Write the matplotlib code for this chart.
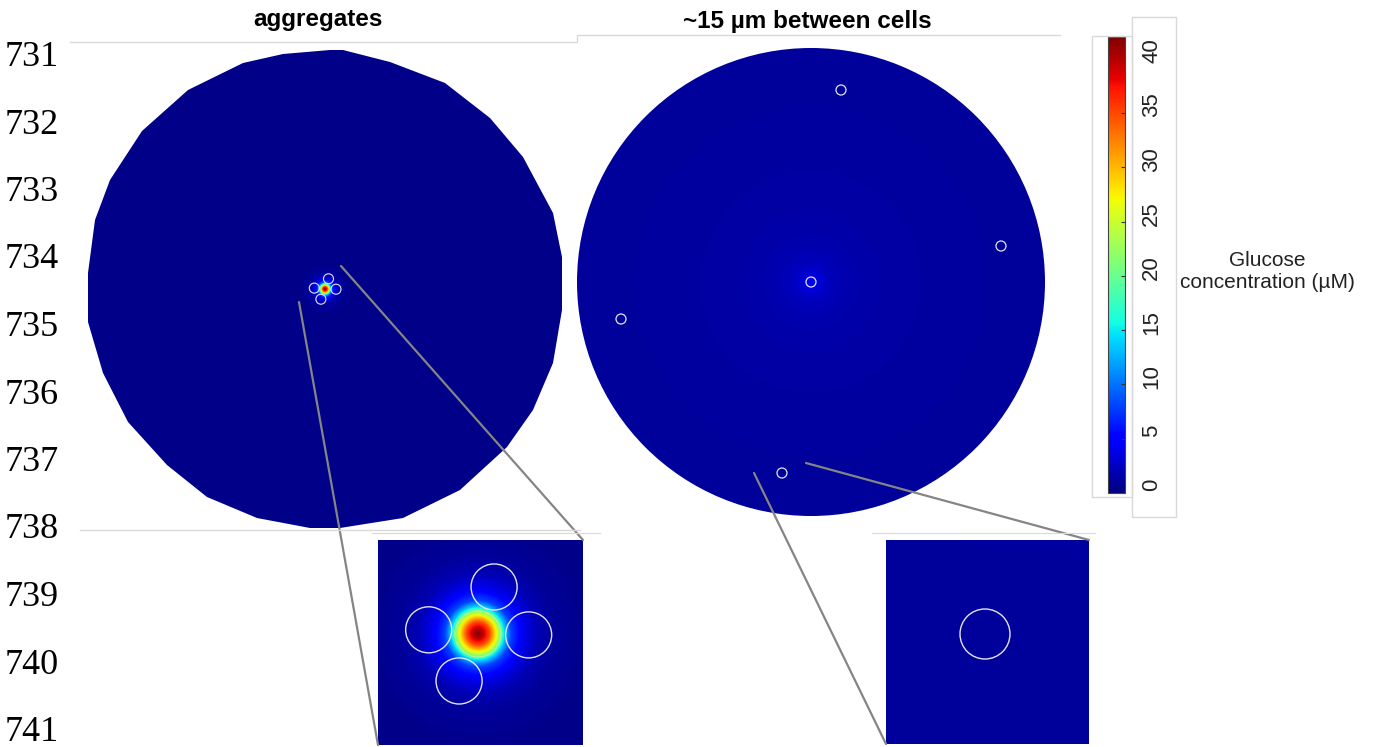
import numpy as np
import matplotlib
matplotlib.use("Agg")
import matplotlib.pyplot as plt
from matplotlib.patches import Polygon, Circle, Rectangle, ConnectionPatch
from matplotlib.lines import Line2D
from matplotlib.colors import Normalize
from matplotlib.cm import ScalarMappable
from matplotlib.transforms import blended_transform_factory, ScaledTranslation

W, H = 1373, 747

# line numbers down the left margin
line_numbers = [731, 732, 733, 734, 735, 736, 737, 738, 739, 740, 741]

# outer boundary of the coarse mesh for the aggregate domain (um from centre)
mesh_x = [5, 18, 65, 120, 165, 198, 228, 237, 237, 228, 208, 182, 135, 78, 15,
          -15, -68, -118, -158, -197, -222, -237, -237, -230, -215, -183, -137, -82, -42]
mesh_y = [239, 239, 227, 206, 171, 132, 76, 32, -21, -74, -121, -158, -201, -229, -239,
          -239, -229, -208, -176, -133, -84, -33, 16, 69, 109, 158, 199, 226, 235]

# cell centres (um); the first one in each list is the glucose source
agg_cells_x = [0.0, 3.5, -10.7, 11.0, -4.1]
agg_cells_y = [0.0, 10.2, 0.9, -0.2, -10.2]
spread_cells_x = [0, 30, 190, -190, -29]
spread_cells_y = [0, 192, 36, -37, -191]
cell_radius = 5
spread_radius = 234

# radial glucose profiles around the source cell (um, uM)
agg_prof_r = [0, 1, 2.5, 4, 5, 5.8, 7.2, 10, 13, 17, 25, 250]
agg_prof_c = [42, 40, 35, 27, 20, 14, 8, 4, 2, 1, 0.45, 0.4]
spread_prof_r = [0, 5, 10, 20, 40, 80, 150, 250]
spread_prof_c = [5.5, 4.0, 3.0, 2.2, 1.7, 1.4, 1.2, 1.0]

cbar_ticks = [0, 5, 10, 15, 20, 25, 30, 35, 40]
c_max = 42

cmap = plt.get_cmap("jet")
norm = Normalize(0, c_max)
ring_color = "#e4e4ee"
frame_color = "#d9d9d9"


def px_box(x0, y0, x1, y1):
    return [x0 / W, 1 - y1 / H, (x1 - x0) / W, (y1 - y0) / H]


def fig_line(fig, xs, ys, **kw):
    fig.add_artist(Line2D([x / W for x in xs], [1 - y / H for y in ys],
                          transform=fig.transFigure, **kw))


def draw_field(ax, cx, cy, prof_r, prof_c, n=500):
    x0, x1 = ax.get_xlim()
    y0, y1 = ax.get_ylim()
    X, Y = np.meshgrid(np.linspace(x0, x1, n), np.linspace(y0, y1, n))
    conc = np.interp(np.hypot(X - cx, Y - cy), prof_r, prof_c)
    return ax.imshow(conc, extent=(x0, x1, y0, y1), origin="lower", cmap=cmap,
                     norm=norm, interpolation="bilinear", aspect="auto")


def draw_cells(ax, xs, ys, lw):
    for x, y in zip(xs, ys):
        ax.add_patch(Circle((x, y), cell_radius, fill=False, ec=ring_color, lw=lw))


fig = plt.figure(figsize=(W / 100, H / 100), dpi=100)

ax_agg = fig.add_axes(px_box(75, 42, 575, 530))
ax_agg.set_xlim(-250, 250)
ax_agg.set_ylim(-241, 247)
ax_spr = fig.add_axes(px_box(561, 32, 1061, 532))
ax_spr.set_xlim(-250, 250)
ax_spr.set_ylim(-250, 250)
ax_in1 = fig.add_axes(px_box(378, 540, 583, 745))
ax_in1.set_xlim(-21.7, 22.8)
ax_in1.set_ylim(-24.1, 20.4)
ax_in2 = fig.add_axes(px_box(886, 540, 1089, 744))
ax_in2.set_xlim(-48.8, -8.2)
ax_in2.set_ylim(-213, -172.2)

# aggregate domain, clipped to the mesh outline
im = draw_field(ax_agg, agg_cells_x[0], agg_cells_y[0], agg_prof_r, agg_prof_c)
outline = Polygon(np.column_stack([mesh_x, mesh_y]), closed=True, fc="none", ec="none")
ax_agg.add_patch(outline)
im.set_clip_path(outline)
draw_cells(ax_agg, agg_cells_x[1:], agg_cells_y[1:], 0.8)

# spread-out cells, circular domain
im = draw_field(ax_spr, spread_cells_x[0], spread_cells_y[0], spread_prof_r, spread_prof_c)
disk = Circle((0, 0), spread_radius, fc="none", ec="none")
ax_spr.add_patch(disk)
im.set_clip_path(disk)
draw_cells(ax_spr, spread_cells_x, spread_cells_y, 0.9)

# zoomed views
draw_field(ax_in1, agg_cells_x[0], agg_cells_y[0], agg_prof_r, agg_prof_c, n=300)
draw_cells(ax_in1, agg_cells_x[1:], agg_cells_y[1:], 1.0)
ax_in1.add_patch(Circle((agg_cells_x[0], agg_cells_y[0]), cell_radius, fill=False,
                        ec="#f0f0a0", lw=0.8, alpha=0.6))
draw_field(ax_in2, spread_cells_x[0], spread_cells_y[0], spread_prof_r, spread_prof_c, n=300)
draw_cells(ax_in2, spread_cells_x, spread_cells_y, 1.0)

for ax in (ax_agg, ax_spr, ax_in1, ax_in2):
    ax.set_axis_off()

# lines tying each zoomed view to its location
for xy, corner in [((-26, -13), (0, 0)), ((16, 23), (1, 1))]:
    fig.add_artist(ConnectionPatch(xyA=xy, coordsA=ax_agg.transData, xyB=corner,
                                   coordsB=ax_in1.transAxes, color="#858585", lw=1.6))
for xy, corner in [((-57, -191), (0, 0)), ((-5, -181), (1, 1))]:
    fig.add_artist(ConnectionPatch(xyA=xy, coordsA=ax_spr.transData, xyB=corner,
                                   coordsB=ax_in2.transAxes, color="#858585", lw=1.6))

# colour bar
cax = fig.add_axes(px_box(1108, 37, 1125, 493))
cb = fig.colorbar(ScalarMappable(norm=norm, cmap=cmap), cax=cax)
cb.set_ticks(cbar_ticks)
cb.outline.set_edgecolor("#444444")
cb.outline.set_linewidth(0.8)
cax.tick_params(axis="y", direction="in", length=3, width=0.8, color="#333333",
                labelright=False)
lab_tr = blended_transform_factory(cax.transAxes, cax.transData) + \
    ScaledTranslation(0.16, 0.08, fig.dpi_scale_trans)
for v in cbar_ticks:
    cax.text(1.0, v, str(v), transform=lab_tr, rotation=90, ha="left", va="center",
             fontsize=16, family="Liberation Sans", color="#222222")
fig.text(1267 / W, 1 - 271 / H, "Glucose\nconcentration (\u00b5M)", ha="center",
         va="center", multialignment="center", fontsize=15,
         family="Liberation Sans", color="#222222")

# panel frames
fig_line(fig, [70, 577, 577, 1060], [42, 42, 35, 35], color=frame_color, lw=1)
fig_line(fig, [80, 580], [530, 530], color=frame_color, lw=1)
fig_line(fig, [372, 600], [533, 533], color=frame_color, lw=0.8)
fig_line(fig, [872, 1095], [533, 533], color=frame_color, lw=0.8)
for x0, y0, x1, y1 in [(1092, 36, 1132, 497), (1132, 17, 1176, 517)]:
    fig.add_artist(Rectangle((x0 / W, 1 - y1 / H), (x1 - x0) / W, (y1 - y0) / H,
                             transform=fig.transFigure, fill=False,
                             ec=frame_color, lw=1))

# titles
fig.text(318 / W, 1 - 26 / H, "aggregates", ha="center", va="baseline",
         fontsize=17.5, fontweight="bold", family="Liberation Sans")
fig.text(807 / W, 1 - 28 / H, "~15 \u00b5m between cells", ha="center", va="baseline",
         fontsize=17.5, fontweight="bold", family="Liberation Sans")

for i, n in enumerate(line_numbers):
    fig.text(5 / W, 1 - (66 + 67.5 * i) / H, str(n), ha="left", va="baseline",
             fontsize=26, family="Liberation Serif")

fig.savefig("out.png", dpi=100)
